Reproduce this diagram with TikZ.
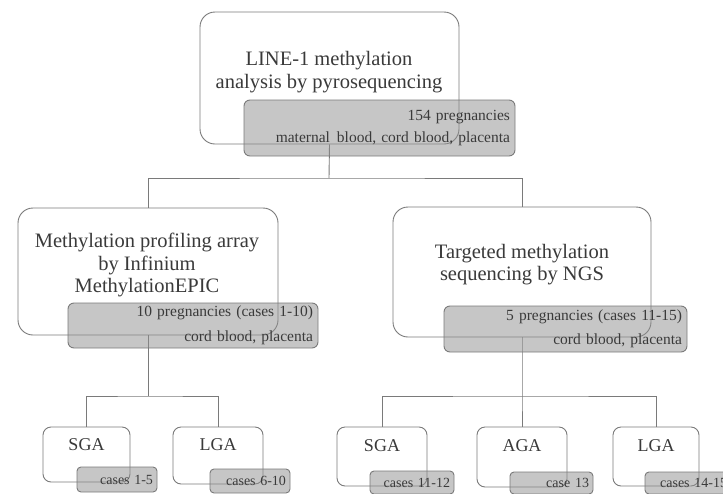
\documentclass[tikz,border=0pt]{standalone}
\usepackage{fontspec}
\setmainfont{Liberation Serif}
\definecolor{edge}{HTML}{7A7A7A}
\definecolor{shade}{HTML}{8E8E8E}
\definecolor{txt}{HTML}{3A3A3A}

\begin{document}
\begin{tikzpicture}[
  x=1pt, y=-1pt,
  line width=0.9pt,
  conn/.style={draw=edge},
  box/.style={draw=edge, fill=white, rounded corners=15pt, inner sep=0pt},
  smallbox/.style={draw=edge, fill=white, rounded corners=8pt, inner sep=0pt},
  info/.style={draw=edge, fill=shade, fill opacity=0.5, text opacity=1, text=txt,
    rounded corners=6pt, align=right, inner xsep=5pt, inner ysep=0pt,
    font=\fontsize{15.5}{22}\selectfont},
  smallinfo/.style={info, rounded corners=4pt, inner xsep=4pt,
    font=\fontsize{14}{16}\selectfont},
  title/.style={align=center, text=txt, font=\fontsize{20.5}{23}\selectfont},
  smalltitle/.style={text=txt, font=\fontsize{18}{20}\selectfont}
]
  \clip[use as bounding box] (0,0) rectangle (723,493);

  % top
  \node[box, minimum width=259pt, minimum height=132pt] (top) at (329.5,78) {};
  \node[title] (toptitle) at (329,72) {LINE-1 methylation\\analysis by pyrosequencing};

  % middle, left and right
  \node[box, minimum width=260pt, minimum height=127pt] (arr) at (148,271.5) {};
  \node[title, font=\fontsize{20.5}{22.5}\selectfont] (arrtitle) at (147,265)
    {Methylation profiling array\\by Infinium\\MethylationEPIC};
  \node[box, minimum width=258pt, minimum height=130pt] (ngs) at (522,272) {};
  \node[title, font=\fontsize{20.5}{22}\selectfont] (ngstitle) at (522,265)
    {Targeted methylation\\sequencing by NGS};

  % bottom
  \node[smallbox, minimum width=87pt, minimum height=55pt] (sgaA) at (86.5,454.5) {};
  \node[smalltitle] (sgaAt) at (86.5,445) {SGA};
  \node[smallbox, minimum width=90pt, minimum height=57pt] (lgaA) at (218,455.5) {};
  \node[smalltitle] (lgaAt) at (218,445) {LGA};
  \node[smallbox, minimum width=90pt, minimum height=59pt] (sgaB) at (382,456.5) {};
  \node[smalltitle] (sgaBt) at (382,445.5) {SGA};
  \node[smallbox, minimum width=90pt, minimum height=60pt] (aga) at (522,457) {};
  \node[smalltitle] (agat) at (522,446) {AGA};
  \node[smallbox, minimum width=86pt, minimum height=59pt] (lgaB) at (656,456.5) {};
  \node[smalltitle] (lgaBt) at (656,445.5) {LGA};

  % connectors
  \coordinate (forkT) at (329,178);
  \coordinate (forkL) at (148,396);
  \coordinate (forkR) at (522,396);
  \draw[conn] (top.south) -- (forkT);
  \draw[conn] (arr.north) |- (forkT) -| (ngs.north);
  \draw[conn] (arr.south) -- (forkL);
  \draw[conn] (sgaA.north) |- (forkL) -| (lgaA.north);
  \draw[conn] (ngs.south) -- (forkR) -- (aga.north);
  \draw[conn] (sgaB.north) |- (forkR) -| (lgaB.north);

  % gray info boxes
  \node[info, text width=261pt, minimum height=56pt] (topinfo) at (379.5,128)
    {154 pregnancies\\maternal\hspace{0.45em}blood, cord blood, placenta};
  \node[info, text width=240pt, minimum height=45pt, font=\fontsize{15.5}{25}\selectfont]
    (arrinfo) at (193,325.5) {10 pregnancies (cases 1-10)\\cord blood, placenta};
  \node[info, text width=233pt, minimum height=46pt, font=\fontsize{15.5}{24}\selectfont]
    (ngsinfo) at (565.5,329) {5 pregnancies (cases 11-15)\\cord blood, placenta};
  \node[smallinfo, text width=72pt, minimum height=25pt] (sgaAinfo) at (117,479.5) {cases 1-5};
  \node[smallinfo, text width=72pt, minimum height=24pt] (lgaAinfo) at (250,481) {cases 6-10};
  \node[smallinfo, text width=76pt, minimum height=23pt] (sgaBinfo) at (412,482.5) {cases 11-12};
  \node[smallinfo, text width=75pt, minimum height=22pt] (againfo) at (551.5,483) {case 13};
  \node[smallinfo, text width=78pt, minimum height=22pt] (lgaBinfo) at (688,483) {cases 14-15};
\end{tikzpicture}
\end{document}
